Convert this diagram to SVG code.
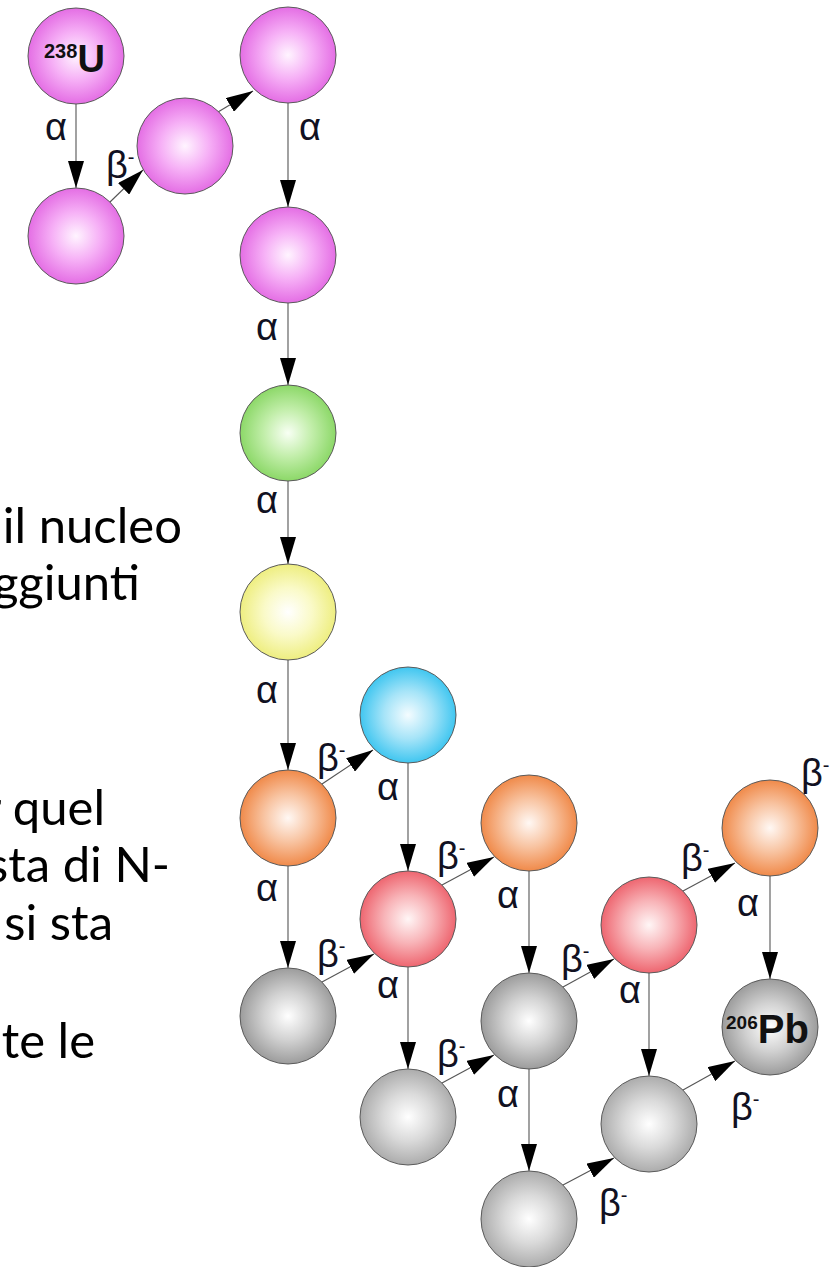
<svg xmlns="http://www.w3.org/2000/svg" width="830" height="1267" viewBox="0 0 830 1267">
<style>
.n{stroke:#5a5a5a;stroke-width:1}
.c line{stroke:#555;stroke-width:1.1;marker-end:url(#ah)}
.lb{font-family:"Liberation Sans",Arial,sans-serif;font-size:38px;fill:#111122}
.sp{font-size:20px}
.bg{font-family:Lato,"Open Sans",sans-serif;font-size:49px;fill:#000;text-anchor:end}
.iso{font-family:"Liberation Sans",Arial,sans-serif;font-weight:bold;fill:#111}
</style>
<defs>
<marker id="ah" markerUnits="userSpaceOnUse" markerWidth="27" markerHeight="16" refX="27" refY="8" orient="auto"><path d="M0,0 L27,8 L0,16 z" fill="#000"/></marker>
<radialGradient id="gm"><stop offset="0" stop-color="#fff4ff"/><stop offset="0.5" stop-color="#f6b0f6"/><stop offset="1" stop-color="#e46ee4"/></radialGradient>
<radialGradient id="gg"><stop offset="0" stop-color="#f8fff4"/><stop offset="0.5" stop-color="#c2eeaa"/><stop offset="1" stop-color="#8cd868"/></radialGradient>
<radialGradient id="gy"><stop offset="0" stop-color="#ffffff"/><stop offset="0.5" stop-color="#fafac8"/><stop offset="1" stop-color="#eeee80"/></radialGradient>
<radialGradient id="gc"><stop offset="0" stop-color="#f4fcff"/><stop offset="0.5" stop-color="#a6e4f8"/><stop offset="1" stop-color="#40c6f0"/></radialGradient>
<radialGradient id="go"><stop offset="0" stop-color="#fff8f4"/><stop offset="0.5" stop-color="#f8c4a2"/><stop offset="1" stop-color="#f08a4a"/></radialGradient>
<radialGradient id="gr"><stop offset="0" stop-color="#fff6f6"/><stop offset="0.5" stop-color="#f8b4b8"/><stop offset="1" stop-color="#ee6670"/></radialGradient>
<radialGradient id="gd"><stop offset="0" stop-color="#ffffff"/><stop offset="0.5" stop-color="#d2d2d2"/><stop offset="1" stop-color="#9c9c9c"/></radialGradient>
<radialGradient id="gl"><stop offset="0" stop-color="#ffffff"/><stop offset="0.5" stop-color="#dadada"/><stop offset="1" stop-color="#acacac"/></radialGradient>
</defs>
<rect width="830" height="1267" fill="#fff"/>
<g id="bgtext">
<text class="bg" x="182" y="543">il nucleo</text>
<text class="bg" x="140" y="600">ggiunti</text>
<text class="bg" x="105" y="825">r quel</text>
<text class="bg" x="170" y="882">sta di N-</text>
<text class="bg" x="113" y="940">si sta</text>
<text class="bg" x="95" y="1058">te le</text>
</g>
<g class="c" id="connectors">
<line x1="76" y1="104" x2="76" y2="188"/>
<line x1="110" y1="202" x2="143" y2="170"/>
<line x1="218" y1="112" x2="253" y2="91"/>
<line x1="288" y1="103" x2="288" y2="207"/>
<line x1="288" y1="303" x2="288" y2="385"/>
<line x1="288" y1="481" x2="288" y2="564"/>
<line x1="288" y1="660" x2="288" y2="770"/>
<line x1="322" y1="784" x2="373" y2="750"/>
<line x1="408" y1="763" x2="408" y2="871"/>
<line x1="288" y1="866" x2="288" y2="968"/>
<line x1="442" y1="885" x2="494" y2="857"/>
<line x1="322" y1="982" x2="374" y2="954"/>
<line x1="408" y1="962" x2="408" y2="1069"/>
<line x1="529" y1="871" x2="529" y2="973"/>
<line x1="563" y1="987" x2="614" y2="959"/>
<line x1="683" y1="891" x2="735" y2="863"/>
<line x1="770" y1="876" x2="770" y2="979"/>
<line x1="649" y1="967" x2="649" y2="1076"/>
<line x1="529" y1="1069" x2="529" y2="1171"/>
<line x1="442" y1="1083" x2="494" y2="1055"/>
<line x1="563" y1="1185" x2="614" y2="1158"/>
<line x1="683" y1="1090" x2="735" y2="1061"/>
</g>
<g id="labels">
<text class="lb" x="45" y="140">α</text>
<text class="lb" x="106" y="178">β<tspan class="sp" dy="-14">-</tspan></text>
<text class="lb" x="299" y="140">α</text>
<text class="lb" x="256" y="340">α</text>
<text class="lb" x="256" y="513">α</text>
<text class="lb" x="256" y="703">α</text>
<text class="lb" x="317" y="771">β<tspan class="sp" dy="-14">-</tspan></text>
<text class="lb" x="377" y="800">α</text>
<text class="lb" x="256" y="901">α</text>
<text class="lb" x="437" y="869">β<tspan class="sp" dy="-14">-</tspan></text>
<text class="lb" x="317" y="967">β<tspan class="sp" dy="-14">-</tspan></text>
<text class="lb" x="377" y="998">α</text>
<text class="lb" x="497" y="908">α</text>
<text class="lb" x="561" y="972">β<tspan class="sp" dy="-14">-</tspan></text>
<text class="lb" x="681" y="871">β<tspan class="sp" dy="-14">-</tspan></text>
<text class="lb" x="737" y="916">α</text>
<text class="lb" x="619" y="1003">α</text>
<text class="lb" x="497" y="1107">α</text>
<text class="lb" x="437" y="1067">β<tspan class="sp" dy="-14">-</tspan></text>
<text class="lb" x="599" y="1216">β<tspan class="sp" dy="-14">-</tspan></text>
<text class="lb" x="731" y="1120">β<tspan class="sp" dy="-14">-</tspan></text>
<text class="lb" x="801" y="786">β<tspan class="sp" dy="-14">-</tspan></text>
</g>
<g id="u238"><circle class="n" cx="76" cy="56" r="48" fill="url(#gm)"/><text class="iso" x="44" y="72"><tspan font-size="20" dy="-14">238</tspan><tspan font-size="38" dy="14">U</tspan></text></g>
<g id="n2"><circle class="n" cx="76" cy="236" r="48" fill="url(#gm)"/></g>
<g id="n3"><circle class="n" cx="185" cy="146" r="48" fill="url(#gm)"/></g>
<g id="n4"><circle class="n" cx="288" cy="55" r="48" fill="url(#gm)"/></g>
<g id="n5"><circle class="n" cx="288" cy="255" r="48" fill="url(#gm)"/></g>
<g id="n6"><circle class="n" cx="288" cy="433" r="48" fill="url(#gg)"/></g>
<g id="n7"><circle class="n" cx="288" cy="612" r="48" fill="url(#gy)"/></g>
<g id="n8"><circle class="n" cx="288" cy="818" r="48" fill="url(#go)"/></g>
<g id="n9"><circle class="n" cx="408" cy="715" r="48" fill="url(#gc)"/></g>
<g id="n10"><circle class="n" cx="408" cy="919" r="48" fill="url(#gr)"/></g>
<g id="n11"><circle class="n" cx="288" cy="1016" r="48" fill="url(#gd)"/></g>
<g id="n12"><circle class="n" cx="529" cy="823" r="48" fill="url(#go)"/></g>
<g id="n13"><circle class="n" cx="408" cy="1117" r="48" fill="url(#gl)"/></g>
<g id="n14"><circle class="n" cx="529" cy="1021" r="48" fill="url(#gd)"/></g>
<g id="n15"><circle class="n" cx="649" cy="925" r="48" fill="url(#gr)"/></g>
<g id="n16"><circle class="n" cx="770" cy="828" r="48" fill="url(#go)"/></g>
<g id="n17"><circle class="n" cx="529" cy="1219" r="48" fill="url(#gl)"/></g>
<g id="n18"><circle class="n" cx="649" cy="1124" r="48" fill="url(#gl)"/></g>
<g id="pb206"><circle class="n" cx="770" cy="1027" r="48" fill="url(#gd)"/><text class="iso" x="726" y="1043"><tspan font-size="19" dy="-14">206</tspan><tspan font-size="40" dy="14">Pb</tspan></text></g>
</svg>
